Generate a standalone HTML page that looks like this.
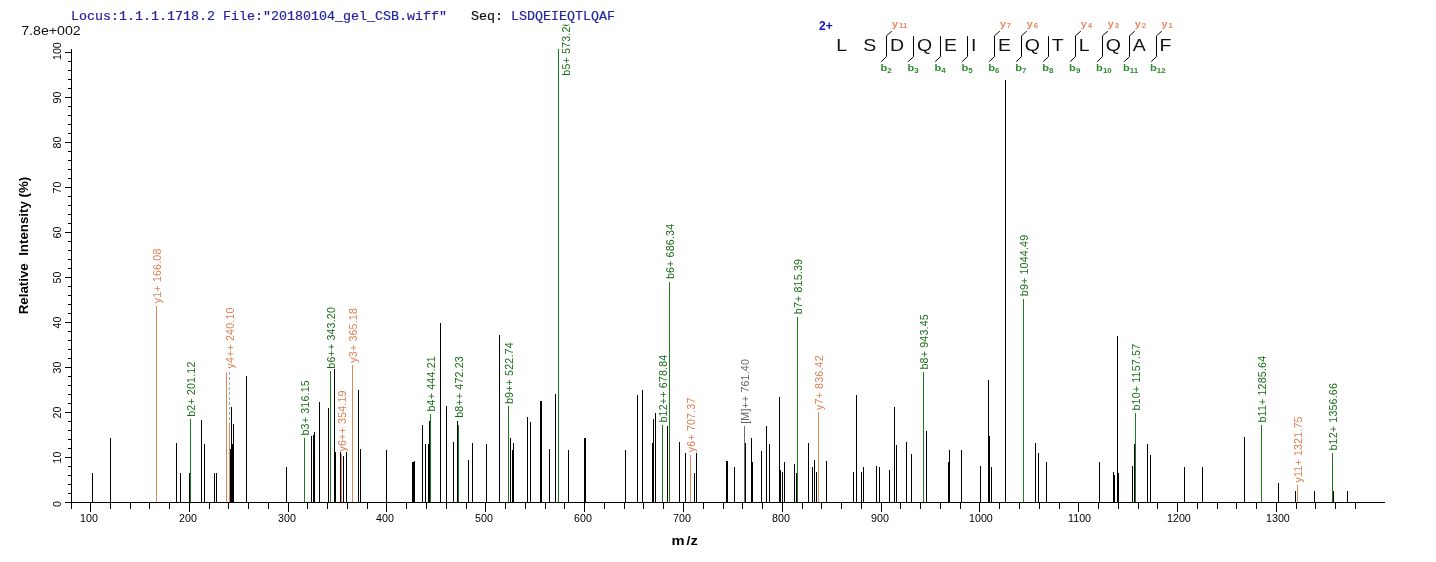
<!DOCTYPE html>
<html><head><meta charset="utf-8"><title>Spectrum</title>
<style>html,body{margin:0;padding:0;background:#fff}body{width:1436px;height:562px;overflow:hidden}</style></head>
<body>
<svg width="1436" height="562" viewBox="0 0 1436 562" style="display:block">
<rect width="1436" height="562" fill="#fff"/>
<g font-family="Liberation Sans, Arial, sans-serif" font-size="10.67" letter-spacing="0.17">
<text transform="translate(160.7,303.2) rotate(-90)" fill="#dd7f52">y1+ 166.08</text>
<text transform="translate(234.0,368.5) rotate(-90)" fill="#dd7f52">y4++ 240.10</text>
<text transform="translate(345.7,451.5) rotate(-90)" fill="#dd7f52">y6++ 354.19</text>
<text transform="translate(356.7,362.7) rotate(-90)" fill="#dd7f52">y3+ 365.18</text>
<text transform="translate(694.7,452.2) rotate(-90)" fill="#dd7f52">y6+ 707.37</text>
<text transform="translate(822.7,410.0) rotate(-90)" fill="#dd7f52">y7+ 836.42</text>
<text transform="translate(1301.7,482.5) rotate(-90)" fill="#dd7f52">y11+ 1321.75</text>
<text transform="translate(194.7,416.8) rotate(-90)" fill="#186c18">b2+ 201.12</text>
<text transform="translate(308.7,435.5) rotate(-90)" fill="#186c18">b3+ 316.15</text>
<text transform="translate(334.7,368.7) rotate(-90)" fill="#186c18">b6++ 343.20</text>
<text transform="translate(434.7,411.5) rotate(-90)" fill="#186c18">b4+ 444.21</text>
<text transform="translate(462.7,417.8) rotate(-90)" fill="#186c18">b8++ 472.23</text>
<text transform="translate(512.7,404.0) rotate(-90)" fill="#186c18">b9++ 522.74</text>
<text transform="translate(569.7,75.7) rotate(-90)" fill="#186c18">b5+ 573.26</text>
<text transform="translate(666.7,422.5) rotate(-90)" fill="#186c18">b12++ 678.84</text>
<text transform="translate(673.7,279.1) rotate(-90)" fill="#186c18">b6+ 686.34</text>
<text transform="translate(801.7,314.2) rotate(-90)" fill="#186c18">b7+ 815.39</text>
<text transform="translate(927.7,369.5) rotate(-90)" fill="#186c18">b8+ 943.45</text>
<text transform="translate(1027.7,296.2) rotate(-90)" fill="#186c18">b9+ 1044.49</text>
<text transform="translate(1139.7,410.5) rotate(-90)" fill="#186c18">b10+ 1157.57</text>
<text transform="translate(1265.7,422.5) rotate(-90)" fill="#186c18">b11+ 1285.64</text>
<text transform="translate(1336.7,450.5) rotate(-90)" fill="#186c18">b12+ 1356.66</text>
<text transform="translate(748.7,423.8) rotate(-90)" fill="#666">[M]++ 761.40</text>
</g>
<rect x="0" y="0" width="800" height="24.5" fill="#fff"/>
<text x="71" y="19.7" font-family="Liberation Mono, Courier New, monospace" font-size="13.33" fill="#2424a0" stroke="#2424a0" stroke-width="0.2" xml:space="preserve">Locus:1.1.1.1718.2 File:"20180104_gel_CSB.wiff"   <tspan fill="#111" stroke="#111">Seq:</tspan> LSDQEIEQTLQAF</text>
<g shape-rendering="crispEdges">
<rect x="92" y="473" width="1" height="29" fill="#000"/>
<rect x="110" y="438" width="1" height="64" fill="#000"/>
<rect x="176" y="443" width="1" height="59" fill="#000"/>
<rect x="180" y="473" width="1" height="29" fill="#000"/>
<rect x="189" y="473" width="1" height="29" fill="#000"/>
<rect x="201" y="420" width="1" height="82" fill="#000"/>
<rect x="204" y="444" width="1" height="58" fill="#000"/>
<rect x="214" y="473" width="1" height="29" fill="#000"/>
<rect x="216" y="473" width="1" height="29" fill="#000"/>
<rect x="230" y="449" width="1" height="53" fill="#000"/>
<rect x="231" y="407" width="1" height="95" fill="#000"/>
<rect x="232" y="444" width="1" height="58" fill="#000"/>
<rect x="233" y="424" width="1" height="78" fill="#000"/>
<rect x="246" y="376" width="1" height="126" fill="#000"/>
<rect x="286" y="467" width="1" height="35" fill="#000"/>
<rect x="311" y="436" width="1" height="66" fill="#000"/>
<rect x="313" y="435" width="1" height="67" fill="#000"/>
<rect x="314" y="432" width="1" height="70" fill="#000"/>
<rect x="319" y="402" width="1" height="100" fill="#000"/>
<rect x="328" y="408" width="1" height="94" fill="#000"/>
<rect x="334" y="369" width="1" height="133" fill="#000"/>
<rect x="335" y="452" width="1" height="50" fill="#000"/>
<rect x="340" y="452" width="1" height="50" fill="#000"/>
<rect x="343" y="456" width="1" height="46" fill="#000"/>
<rect x="346" y="452" width="1" height="50" fill="#000"/>
<rect x="358" y="390" width="1" height="112" fill="#000"/>
<rect x="360" y="449" width="1" height="53" fill="#000"/>
<rect x="386" y="450" width="1" height="52" fill="#000"/>
<rect x="412" y="462" width="1" height="40" fill="#000"/>
<rect x="413" y="462" width="1" height="40" fill="#000"/>
<rect x="414" y="461" width="1" height="41" fill="#000"/>
<rect x="422" y="425" width="1" height="77" fill="#000"/>
<rect x="425" y="444" width="1" height="58" fill="#000"/>
<rect x="428" y="444" width="1" height="58" fill="#000"/>
<rect x="429" y="421" width="1" height="81" fill="#000"/>
<rect x="440" y="323" width="1" height="179" fill="#000"/>
<rect x="446" y="406" width="1" height="96" fill="#000"/>
<rect x="453" y="442" width="1" height="60" fill="#000"/>
<rect x="457" y="421" width="1" height="81" fill="#000"/>
<rect x="468" y="460" width="1" height="42" fill="#000"/>
<rect x="472" y="443" width="1" height="59" fill="#000"/>
<rect x="486" y="444" width="1" height="58" fill="#000"/>
<rect x="499" y="335" width="1" height="167" fill="#000"/>
<rect x="510" y="438" width="1" height="64" fill="#000"/>
<rect x="512" y="450" width="1" height="52" fill="#000"/>
<rect x="513" y="443" width="1" height="59" fill="#000"/>
<rect x="527" y="417" width="1" height="85" fill="#000"/>
<rect x="530" y="422" width="1" height="80" fill="#000"/>
<rect x="540" y="401" width="1" height="101" fill="#000"/>
<rect x="541" y="401" width="1" height="101" fill="#000"/>
<rect x="549" y="449" width="1" height="53" fill="#000"/>
<rect x="555" y="394" width="1" height="108" fill="#000"/>
<rect x="568" y="450" width="1" height="52" fill="#000"/>
<rect x="584" y="438" width="1" height="64" fill="#000"/>
<rect x="585" y="438" width="1" height="64" fill="#000"/>
<rect x="625" y="450" width="1" height="52" fill="#000"/>
<rect x="637" y="395" width="1" height="107" fill="#000"/>
<rect x="642" y="390" width="1" height="112" fill="#000"/>
<rect x="652" y="443" width="1" height="59" fill="#000"/>
<rect x="653" y="419" width="1" height="83" fill="#000"/>
<rect x="655" y="413" width="1" height="89" fill="#000"/>
<rect x="667" y="426" width="1" height="76" fill="#000"/>
<rect x="679" y="442" width="1" height="60" fill="#000"/>
<rect x="685" y="453" width="1" height="49" fill="#000"/>
<rect x="694" y="473" width="1" height="29" fill="#000"/>
<rect x="696" y="453" width="1" height="49" fill="#000"/>
<rect x="726" y="461" width="1" height="41" fill="#000"/>
<rect x="727" y="461" width="1" height="41" fill="#000"/>
<rect x="734" y="467" width="1" height="35" fill="#000"/>
<rect x="745" y="443" width="1" height="59" fill="#000"/>
<rect x="751" y="438" width="1" height="64" fill="#000"/>
<rect x="752" y="462" width="1" height="40" fill="#000"/>
<rect x="761" y="451" width="1" height="51" fill="#000"/>
<rect x="766" y="426" width="1" height="76" fill="#000"/>
<rect x="769" y="444" width="1" height="58" fill="#000"/>
<rect x="779" y="397" width="1" height="105" fill="#000"/>
<rect x="780" y="470" width="1" height="32" fill="#000"/>
<rect x="782" y="472" width="1" height="30" fill="#000"/>
<rect x="784" y="462" width="1" height="40" fill="#000"/>
<rect x="794" y="464" width="1" height="38" fill="#000"/>
<rect x="796" y="473" width="1" height="29" fill="#000"/>
<rect x="808" y="443" width="1" height="59" fill="#000"/>
<rect x="812" y="467" width="1" height="35" fill="#000"/>
<rect x="814" y="460" width="1" height="42" fill="#000"/>
<rect x="816" y="472" width="1" height="30" fill="#000"/>
<rect x="826" y="461" width="1" height="41" fill="#000"/>
<rect x="853" y="472" width="1" height="30" fill="#000"/>
<rect x="856" y="395" width="1" height="107" fill="#000"/>
<rect x="861" y="472" width="1" height="30" fill="#000"/>
<rect x="863" y="467" width="1" height="35" fill="#000"/>
<rect x="876" y="466" width="1" height="36" fill="#000"/>
<rect x="879" y="467" width="1" height="35" fill="#000"/>
<rect x="889" y="470" width="1" height="32" fill="#000"/>
<rect x="894" y="407" width="1" height="95" fill="#000"/>
<rect x="896" y="445" width="1" height="57" fill="#000"/>
<rect x="906" y="442" width="1" height="60" fill="#000"/>
<rect x="911" y="454" width="1" height="48" fill="#000"/>
<rect x="926" y="431" width="1" height="71" fill="#000"/>
<rect x="948" y="462" width="1" height="40" fill="#000"/>
<rect x="949" y="450" width="1" height="52" fill="#000"/>
<rect x="961" y="450" width="1" height="52" fill="#000"/>
<rect x="980" y="466" width="1" height="36" fill="#000"/>
<rect x="988" y="380" width="1" height="122" fill="#000"/>
<rect x="989" y="436" width="1" height="66" fill="#000"/>
<rect x="991" y="467" width="1" height="35" fill="#000"/>
<rect x="1005" y="80" width="1" height="422" fill="#000"/>
<rect x="1035" y="443" width="1" height="59" fill="#000"/>
<rect x="1038" y="453" width="1" height="49" fill="#000"/>
<rect x="1046" y="462" width="1" height="40" fill="#000"/>
<rect x="1099" y="462" width="1" height="40" fill="#000"/>
<rect x="1113" y="472" width="1" height="30" fill="#000"/>
<rect x="1114" y="475" width="1" height="27" fill="#000"/>
<rect x="1117" y="336" width="1" height="166" fill="#000"/>
<rect x="1118" y="473" width="1" height="29" fill="#000"/>
<rect x="1132" y="466" width="1" height="36" fill="#000"/>
<rect x="1134" y="444" width="1" height="58" fill="#000"/>
<rect x="1147" y="444" width="1" height="58" fill="#000"/>
<rect x="1150" y="455" width="1" height="47" fill="#000"/>
<rect x="1184" y="467" width="1" height="35" fill="#000"/>
<rect x="1202" y="467" width="1" height="35" fill="#000"/>
<rect x="1244" y="437" width="1" height="65" fill="#000"/>
<rect x="1278" y="483" width="1" height="19" fill="#000"/>
<rect x="1295" y="491" width="1" height="11" fill="#000"/>
<rect x="1314" y="491" width="1" height="11" fill="#000"/>
<rect x="1333" y="491" width="1" height="11" fill="#000"/>
<rect x="1347" y="491" width="1" height="11" fill="#000"/>
<rect x="156" y="306" width="1" height="196" fill="#e0875a"/>
<rect x="226" y="372" width="1" height="130" fill="#e0875a"/>
<rect x="229" y="424" width="1" height="78" fill="#e0875a"/>
<rect x="341" y="454" width="1" height="48" fill="#e0875a"/>
<rect x="352" y="365" width="1" height="137" fill="#e0875a"/>
<rect x="690" y="455" width="1" height="47" fill="#e0875a"/>
<rect x="818" y="412" width="1" height="90" fill="#e0875a"/>
<rect x="1297" y="485" width="1" height="17" fill="#e0875a"/>
<rect x="190" y="419" width="1" height="83" fill="#1f7a1f"/>
<rect x="304" y="438" width="1" height="64" fill="#1f7a1f"/>
<rect x="330" y="371" width="1" height="131" fill="#1f7a1f"/>
<rect x="430" y="414" width="1" height="88" fill="#1f7a1f"/>
<rect x="458" y="425" width="1" height="77" fill="#1f7a1f"/>
<rect x="508" y="406" width="1" height="96" fill="#1f7a1f"/>
<rect x="558" y="49" width="1" height="453" fill="#1f7a1f"/>
<rect x="662" y="425" width="1" height="77" fill="#1f7a1f"/>
<rect x="669" y="282" width="1" height="220" fill="#1f7a1f"/>
<rect x="797" y="317" width="1" height="185" fill="#1f7a1f"/>
<rect x="923" y="372" width="1" height="130" fill="#1f7a1f"/>
<rect x="1023" y="299" width="1" height="203" fill="#1f7a1f"/>
<rect x="1135" y="413" width="1" height="89" fill="#1f7a1f"/>
<rect x="1261" y="425" width="1" height="77" fill="#1f7a1f"/>
<rect x="1332" y="453" width="1" height="49" fill="#1f7a1f"/>
<rect x="744" y="426" width="1" height="76" fill="#707070"/>
<line x1="229.5" y1="372" x2="229.5" y2="424" stroke="#aaa" stroke-width="1" stroke-dasharray="3,2"/>
<rect x="71" y="49" width="1" height="460" fill="#000"/>
<rect x="65" y="502" width="1320" height="1" fill="#000"/>
<rect x="65" y="502" width="6" height="1" fill="#000"/>
<rect x="68" y="493" width="3" height="1" fill="#000"/>
<rect x="68" y="484" width="3" height="1" fill="#000"/>
<rect x="68" y="475" width="3" height="1" fill="#000"/>
<rect x="68" y="466" width="3" height="1" fill="#000"/>
<rect x="65" y="457" width="6" height="1" fill="#000"/>
<rect x="68" y="448" width="3" height="1" fill="#000"/>
<rect x="68" y="439" width="3" height="1" fill="#000"/>
<rect x="68" y="430" width="3" height="1" fill="#000"/>
<rect x="68" y="421" width="3" height="1" fill="#000"/>
<rect x="65" y="412" width="6" height="1" fill="#000"/>
<rect x="68" y="403" width="3" height="1" fill="#000"/>
<rect x="68" y="394" width="3" height="1" fill="#000"/>
<rect x="68" y="385" width="3" height="1" fill="#000"/>
<rect x="68" y="376" width="3" height="1" fill="#000"/>
<rect x="65" y="367" width="6" height="1" fill="#000"/>
<rect x="68" y="358" width="3" height="1" fill="#000"/>
<rect x="68" y="349" width="3" height="1" fill="#000"/>
<rect x="68" y="340" width="3" height="1" fill="#000"/>
<rect x="68" y="331" width="3" height="1" fill="#000"/>
<rect x="65" y="322" width="6" height="1" fill="#000"/>
<rect x="68" y="313" width="3" height="1" fill="#000"/>
<rect x="68" y="304" width="3" height="1" fill="#000"/>
<rect x="68" y="295" width="3" height="1" fill="#000"/>
<rect x="68" y="286" width="3" height="1" fill="#000"/>
<rect x="65" y="277" width="6" height="1" fill="#000"/>
<rect x="68" y="268" width="3" height="1" fill="#000"/>
<rect x="68" y="259" width="3" height="1" fill="#000"/>
<rect x="68" y="250" width="3" height="1" fill="#000"/>
<rect x="68" y="241" width="3" height="1" fill="#000"/>
<rect x="65" y="232" width="6" height="1" fill="#000"/>
<rect x="68" y="223" width="3" height="1" fill="#000"/>
<rect x="68" y="214" width="3" height="1" fill="#000"/>
<rect x="68" y="205" width="3" height="1" fill="#000"/>
<rect x="68" y="196" width="3" height="1" fill="#000"/>
<rect x="65" y="187" width="6" height="1" fill="#000"/>
<rect x="68" y="178" width="3" height="1" fill="#000"/>
<rect x="68" y="169" width="3" height="1" fill="#000"/>
<rect x="68" y="160" width="3" height="1" fill="#000"/>
<rect x="68" y="151" width="3" height="1" fill="#000"/>
<rect x="65" y="142" width="6" height="1" fill="#000"/>
<rect x="68" y="133" width="3" height="1" fill="#000"/>
<rect x="68" y="124" width="3" height="1" fill="#000"/>
<rect x="68" y="115" width="3" height="1" fill="#000"/>
<rect x="68" y="106" width="3" height="1" fill="#000"/>
<rect x="65" y="97" width="6" height="1" fill="#000"/>
<rect x="68" y="88" width="3" height="1" fill="#000"/>
<rect x="68" y="79" width="3" height="1" fill="#000"/>
<rect x="68" y="70" width="3" height="1" fill="#000"/>
<rect x="68" y="61" width="3" height="1" fill="#000"/>
<rect x="65" y="52" width="6" height="1" fill="#000"/>
<rect x="90" y="502" width="1" height="10" fill="#000"/>
<rect x="110" y="502" width="1" height="7" fill="#000"/>
<rect x="130" y="502" width="1" height="7" fill="#000"/>
<rect x="149" y="502" width="1" height="7" fill="#000"/>
<rect x="169" y="502" width="1" height="7" fill="#000"/>
<rect x="189" y="502" width="1" height="10" fill="#000"/>
<rect x="209" y="502" width="1" height="7" fill="#000"/>
<rect x="228" y="502" width="1" height="7" fill="#000"/>
<rect x="248" y="502" width="1" height="7" fill="#000"/>
<rect x="268" y="502" width="1" height="7" fill="#000"/>
<rect x="288" y="502" width="1" height="10" fill="#000"/>
<rect x="307" y="502" width="1" height="7" fill="#000"/>
<rect x="327" y="502" width="1" height="7" fill="#000"/>
<rect x="347" y="502" width="1" height="7" fill="#000"/>
<rect x="367" y="502" width="1" height="7" fill="#000"/>
<rect x="386" y="502" width="1" height="10" fill="#000"/>
<rect x="406" y="502" width="1" height="7" fill="#000"/>
<rect x="426" y="502" width="1" height="7" fill="#000"/>
<rect x="446" y="502" width="1" height="7" fill="#000"/>
<rect x="466" y="502" width="1" height="7" fill="#000"/>
<rect x="485" y="502" width="1" height="10" fill="#000"/>
<rect x="505" y="502" width="1" height="7" fill="#000"/>
<rect x="525" y="502" width="1" height="7" fill="#000"/>
<rect x="545" y="502" width="1" height="7" fill="#000"/>
<rect x="564" y="502" width="1" height="7" fill="#000"/>
<rect x="584" y="502" width="1" height="10" fill="#000"/>
<rect x="604" y="502" width="1" height="7" fill="#000"/>
<rect x="624" y="502" width="1" height="7" fill="#000"/>
<rect x="643" y="502" width="1" height="7" fill="#000"/>
<rect x="663" y="502" width="1" height="7" fill="#000"/>
<rect x="683" y="502" width="1" height="10" fill="#000"/>
<rect x="703" y="502" width="1" height="7" fill="#000"/>
<rect x="723" y="502" width="1" height="7" fill="#000"/>
<rect x="742" y="502" width="1" height="7" fill="#000"/>
<rect x="762" y="502" width="1" height="7" fill="#000"/>
<rect x="782" y="502" width="1" height="10" fill="#000"/>
<rect x="802" y="502" width="1" height="7" fill="#000"/>
<rect x="821" y="502" width="1" height="7" fill="#000"/>
<rect x="841" y="502" width="1" height="7" fill="#000"/>
<rect x="861" y="502" width="1" height="7" fill="#000"/>
<rect x="881" y="502" width="1" height="10" fill="#000"/>
<rect x="900" y="502" width="1" height="7" fill="#000"/>
<rect x="920" y="502" width="1" height="7" fill="#000"/>
<rect x="940" y="502" width="1" height="7" fill="#000"/>
<rect x="960" y="502" width="1" height="7" fill="#000"/>
<rect x="979" y="502" width="1" height="10" fill="#000"/>
<rect x="999" y="502" width="1" height="7" fill="#000"/>
<rect x="1019" y="502" width="1" height="7" fill="#000"/>
<rect x="1039" y="502" width="1" height="7" fill="#000"/>
<rect x="1059" y="502" width="1" height="7" fill="#000"/>
<rect x="1078" y="502" width="1" height="10" fill="#000"/>
<rect x="1098" y="502" width="1" height="7" fill="#000"/>
<rect x="1118" y="502" width="1" height="7" fill="#000"/>
<rect x="1138" y="502" width="1" height="7" fill="#000"/>
<rect x="1157" y="502" width="1" height="7" fill="#000"/>
<rect x="1177" y="502" width="1" height="10" fill="#000"/>
<rect x="1197" y="502" width="1" height="7" fill="#000"/>
<rect x="1217" y="502" width="1" height="7" fill="#000"/>
<rect x="1236" y="502" width="1" height="7" fill="#000"/>
<rect x="1256" y="502" width="1" height="7" fill="#000"/>
<rect x="1276" y="502" width="1" height="10" fill="#000"/>
<rect x="1296" y="502" width="1" height="7" fill="#000"/>
<rect x="1315" y="502" width="1" height="7" fill="#000"/>
<rect x="1335" y="502" width="1" height="7" fill="#000"/>
<rect x="1355" y="502" width="1" height="7" fill="#000"/>
</g>
<g font-family="Liberation Sans, Arial, sans-serif" font-size="10.67" fill="#000">
<text x="80.1" y="521.6">100</text>
<text x="179.1" y="521.6">200</text>
<text x="278.1" y="521.6">300</text>
<text x="376.1" y="521.6">400</text>
<text x="475.1" y="521.6">500</text>
<text x="574.1" y="521.6">600</text>
<text x="673.1" y="521.6">700</text>
<text x="772.1" y="521.6">800</text>
<text x="871.1" y="521.6">900</text>
<text x="969.1" y="521.6">1000</text>
<text x="1068.1" y="521.6">1100</text>
<text x="1167.1" y="521.6">1200</text>
<text x="1266.1" y="521.6">1300</text>
</g>
<g font-family="Liberation Sans, Arial, sans-serif" font-size="10.67" fill="#000" text-anchor="middle">
<text transform="translate(61.2,504.0) rotate(-90)">0</text>
<text transform="translate(61.2,457.5) rotate(-90)">10</text>
<text transform="translate(61.2,412.5) rotate(-90)">20</text>
<text transform="translate(61.2,367.5) rotate(-90)">30</text>
<text transform="translate(61.2,322.5) rotate(-90)">40</text>
<text transform="translate(61.2,277.5) rotate(-90)">50</text>
<text transform="translate(61.2,232.5) rotate(-90)">60</text>
<text transform="translate(61.2,187.5) rotate(-90)">70</text>
<text transform="translate(61.2,142.5) rotate(-90)">80</text>
<text transform="translate(61.2,97.5) rotate(-90)">90</text>
<text transform="translate(61.2,51.1) rotate(-90)">100</text>
</g>
<text transform="translate(28,245.5) rotate(-90)" text-anchor="middle" font-family="Liberation Sans, Arial, sans-serif" font-weight="bold" font-size="12.3" textLength="137.5" lengthAdjust="spacingAndGlyphs" fill="#000" xml:space="preserve">Relative  Intensity (%)</text>
<g font-family="Liberation Sans, Arial, sans-serif" font-weight="bold" font-size="13.4" fill="#000"><text transform="translate(671.4,544.8) scale(1.1,1)">m</text><text transform="translate(686.6,544.8) scale(1.05,1)">/</text><text transform="translate(690.4,544.8) scale(1.1,1)">z</text></g>
<text x="21.2" y="34.9" font-family="Liberation Sans, Arial, sans-serif" font-size="12.5" textLength="59.5" lengthAdjust="spacingAndGlyphs" fill="#111">7.8e+002</text>
<text x="819" y="29.5" font-family="Liberation Sans, Arial, sans-serif" font-weight="bold" font-size="12" fill="#1010cc">2+</text>
<g font-family="Liberation Sans, Arial, sans-serif" font-size="16" fill="#111">
<text transform="translate(836.20,50.7) scale(1.22,1)">L</text>
<text transform="translate(863.15,50.7) scale(1.22,1)">S</text>
<text transform="translate(890.10,50.7) scale(1.22,1)">D</text>
<text transform="translate(917.05,50.7) scale(1.22,1)">Q</text>
<text transform="translate(944.00,50.7) scale(1.22,1)">E</text>
<text transform="translate(970.95,50.7) scale(1.22,1)">I</text>
<text transform="translate(997.90,50.7) scale(1.22,1)">E</text>
<text transform="translate(1024.85,50.7) scale(1.22,1)">Q</text>
<text transform="translate(1051.80,50.7) scale(1.22,1)">T</text>
<text transform="translate(1078.75,50.7) scale(1.22,1)">L</text>
<text transform="translate(1105.70,50.7) scale(1.22,1)">Q</text>
<text transform="translate(1132.65,50.7) scale(1.22,1)">A</text>
<text transform="translate(1159.60,50.7) scale(1.22,1)">F</text>
</g>
<g fill="none" stroke="#000" stroke-width="1">
<path d="M891.8 31.1 L886.5 35.8 L886.5 56.7 L881.2 61.6"/>
<path d="M913.5 36.2 L913.5 56.7 L908.2 61.6"/>
<path d="M940.5 36.2 L940.5 56.7 L935.2 61.6"/>
<path d="M967.5 36.2 L967.5 56.7 L962.2 61.6"/>
<path d="M999.8 31.1 L994.5 35.8 L994.5 56.7 L989.2 61.6"/>
<path d="M1026.8 31.1 L1021.5 35.8 L1021.5 56.7 L1016.2 61.6"/>
<path d="M1048.5 36.2 L1048.5 56.7 L1043.2 61.6"/>
<path d="M1080.8 31.1 L1075.5 35.8 L1075.5 56.7 L1070.2 61.6"/>
<path d="M1107.8 31.1 L1102.5 35.8 L1102.5 56.7 L1097.2 61.6"/>
<path d="M1134.8 31.1 L1129.5 35.8 L1129.5 56.7 L1124.2 61.6"/>
<path d="M1161.8 31.1 L1156.5 35.8 L1156.5 56.7 L1151.2 61.6"/>
</g>
<g font-family="Liberation Sans, Arial, sans-serif" font-weight="bold">
<text transform="translate(892.1,26.9) scale(1.18,1)" font-size="9.2" fill="#e8875c">y<tspan dx="0.8" dy="0.8" font-size="6.6">11</tspan></text>
<text transform="translate(880.5,71.4) scale(1.2,1)" font-size="9.3" fill="#2e8a2e">b<tspan dx="0" dy="1.5" font-size="6.6">2</tspan></text>
<text transform="translate(907.5,71.4) scale(1.2,1)" font-size="9.3" fill="#2e8a2e">b<tspan dx="0" dy="1.5" font-size="6.6">3</tspan></text>
<text transform="translate(934.4,71.4) scale(1.2,1)" font-size="9.3" fill="#2e8a2e">b<tspan dx="0" dy="1.5" font-size="6.6">4</tspan></text>
<text transform="translate(961.4,71.4) scale(1.2,1)" font-size="9.3" fill="#2e8a2e">b<tspan dx="0" dy="1.5" font-size="6.6">5</tspan></text>
<text transform="translate(999.9,26.9) scale(1.18,1)" font-size="9.2" fill="#e8875c">y<tspan dx="0.8" dy="0.8" font-size="6.6">7</tspan></text>
<text transform="translate(988.3,71.4) scale(1.2,1)" font-size="9.3" fill="#2e8a2e">b<tspan dx="0" dy="1.5" font-size="6.6">6</tspan></text>
<text transform="translate(1026.8,26.9) scale(1.18,1)" font-size="9.2" fill="#e8875c">y<tspan dx="0.8" dy="0.8" font-size="6.6">6</tspan></text>
<text transform="translate(1015.2,71.4) scale(1.2,1)" font-size="9.3" fill="#2e8a2e">b<tspan dx="0" dy="1.5" font-size="6.6">7</tspan></text>
<text transform="translate(1042.2,71.4) scale(1.2,1)" font-size="9.3" fill="#2e8a2e">b<tspan dx="0" dy="1.5" font-size="6.6">8</tspan></text>
<text transform="translate(1080.8,26.9) scale(1.18,1)" font-size="9.2" fill="#e8875c">y<tspan dx="0.8" dy="0.8" font-size="6.6">4</tspan></text>
<text transform="translate(1069.1,71.4) scale(1.2,1)" font-size="9.3" fill="#2e8a2e">b<tspan dx="0" dy="1.5" font-size="6.6">9</tspan></text>
<text transform="translate(1107.7,26.9) scale(1.18,1)" font-size="9.2" fill="#e8875c">y<tspan dx="0.8" dy="0.8" font-size="6.6">3</tspan></text>
<text transform="translate(1096.1,71.4) scale(1.2,1)" font-size="9.3" fill="#2e8a2e">b<tspan dx="0" dy="1.5" font-size="6.6">10</tspan></text>
<text transform="translate(1134.7,26.9) scale(1.18,1)" font-size="9.2" fill="#e8875c">y<tspan dx="0.8" dy="0.8" font-size="6.6">2</tspan></text>
<text transform="translate(1123.0,71.4) scale(1.2,1)" font-size="9.3" fill="#2e8a2e">b<tspan dx="0" dy="1.5" font-size="6.6">11</tspan></text>
<text transform="translate(1161.6,26.9) scale(1.18,1)" font-size="9.2" fill="#e8875c">y<tspan dx="0.8" dy="0.8" font-size="6.6">1</tspan></text>
<text transform="translate(1150.0,71.4) scale(1.2,1)" font-size="9.3" fill="#2e8a2e">b<tspan dx="0" dy="1.5" font-size="6.6">12</tspan></text>
</g>
</svg>
</body></html>
